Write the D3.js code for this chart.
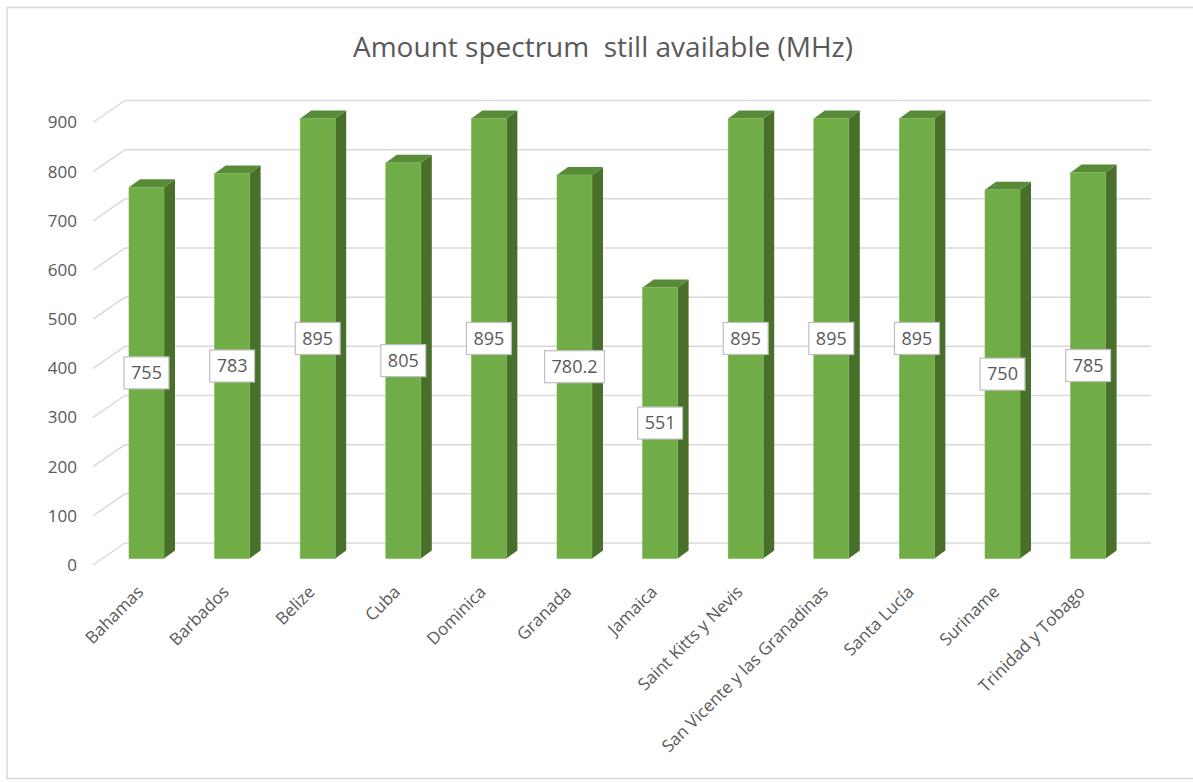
<!DOCTYPE html>
<html>
<head>
<meta charset="utf-8">
<script src="https://cdn.jsdelivr.net/npm/d3@7"></script>
<style>
  html, body { margin: 0; padding: 0; background: #fff; }
  svg { display: block; }
  text { font-family: "Open Sans", "Noto Sans", sans-serif; }
</style>
</head>
<body>
<svg id="chart" width="1193" height="782"></svg>
<script>
const title = "Amount spectrum  still available (MHz)";
const categories = ["Bahamas", "Barbados", "Belize", "Cuba", "Dominica", "Granada", "Jamaica",
  "Saint Kitts y Nevis", "San Vicente y las Granadinas", "Santa Lucía", "Suriname", "Trinidad y Tobago"];
const values = [755, 783, 895, 805, 895, 780.2, 551, 895, 895, 895, 750, 785];
const yTicks = [0, 100, 200, 300, 400, 500, 600, 700, 800, 900];

const svg = d3.select("#chart");

// outer border
svg.append("rect").attr("x", 7).attr("y", 7.5).attr("width", 1200).attr("height", 771)
  .attr("fill", "none").attr("stroke", "#d9d9d9").attr("stroke-width", 1.5);

// title
svg.append("text").attr("x", 603).attr("y", 57).attr("text-anchor", "middle")
  .attr("font-size", 28).attr("fill", "#595959").style("white-space", "pre")
  .text(title);

const x = d3.scaleBand().domain(categories).range([103.7, 1130.9]);
const y = d3.scaleLinear().domain([0, 900]).range([558.5, 116]);
const barW = 35, depthX = 11, depthY = -8;
const backShift = -15.5, frontShift = 6.5;
const wallLeft = 125, wallRight = 1151, floorLeft = 93;

// gridlines (back wall + side wall diagonal)
const grid = svg.append("g");
yTicks.forEach(t => {
  const yb = y(t) + backShift, yf = y(t) + frontShift;
  grid.append("line").attr("x1", wallLeft).attr("x2", wallRight).attr("y1", yb).attr("y2", yb)
    .attr("stroke", "#d9d9d9").attr("stroke-width", 1.5);
  grid.append("line").attr("x1", floorLeft).attr("x2", wallLeft).attr("y1", yf).attr("y2", yb)
    .attr("stroke", "#d9d9d9").attr("stroke-width", 1.5);
  svg.append("text").attr("x", 77).attr("y", yf).attr("dy", "0.35em")
    .attr("text-anchor", "end").attr("font-size", 17).attr("fill", "#595959").text(t);
});

// bars
const bars = svg.append("g");
categories.forEach((c, i) => {
  const v = values[i];
  const x0 = x(c) + (x.bandwidth() - barW) / 2, x1 = x0 + barW;
  const yT = y(v), yB = y(0);
  bars.append("polygon").attr("points", [
    [x1, yT], [x1 + depthX, yT + depthY], [x1 + depthX, yB + depthY], [x1, yB]
  ].map(p => p.join(",")).join(" ")).attr("fill", "#48702b");
  bars.append("polygon").attr("points", [
    [x0, yT], [x0 + depthX, yT + depthY], [x1 + depthX, yT + depthY], [x1, yT]
  ].map(p => p.join(",")).join(" ")).attr("fill", "#578b37");
  bars.append("rect").attr("x", x0).attr("y", yT).attr("width", barW).attr("height", yB - yT)
    .attr("fill", "#70ad47").attr("stroke", "#7cb855").attr("stroke-width", 0.6);
});

// data labels
const labels = svg.append("g");
categories.forEach((c, i) => {
  const v = values[i];
  const cx = x(c) + x.bandwidth() / 2;
  const cy = y(v / 2);
  const g = labels.append("g");
  const rect = g.append("rect");
  const t = g.append("text").attr("x", cx).attr("y", cy).attr("dy", "0.35em")
    .attr("text-anchor", "middle").attr("font-size", 18).attr("fill", "#595959").text(v);
  const w = t.node().getComputedTextLength() + 14, h = 32;
  rect.attr("x", cx - w / 2).attr("y", cy - h / 2).attr("width", w).attr("height", h)
    .attr("fill", "#fff").attr("stroke", "#bfbfbf").attr("stroke-width", 1.2);
});

// category labels
categories.forEach(c => {
  const cx = x(c) + x.bandwidth() / 2 - 2;
  svg.append("text").attr("transform", `translate(${cx},${593}) rotate(-45)`)
    .attr("text-anchor", "end").attr("font-size", 17).attr("fill", "#595959").text(c);
});
</script>
</body>
</html>
